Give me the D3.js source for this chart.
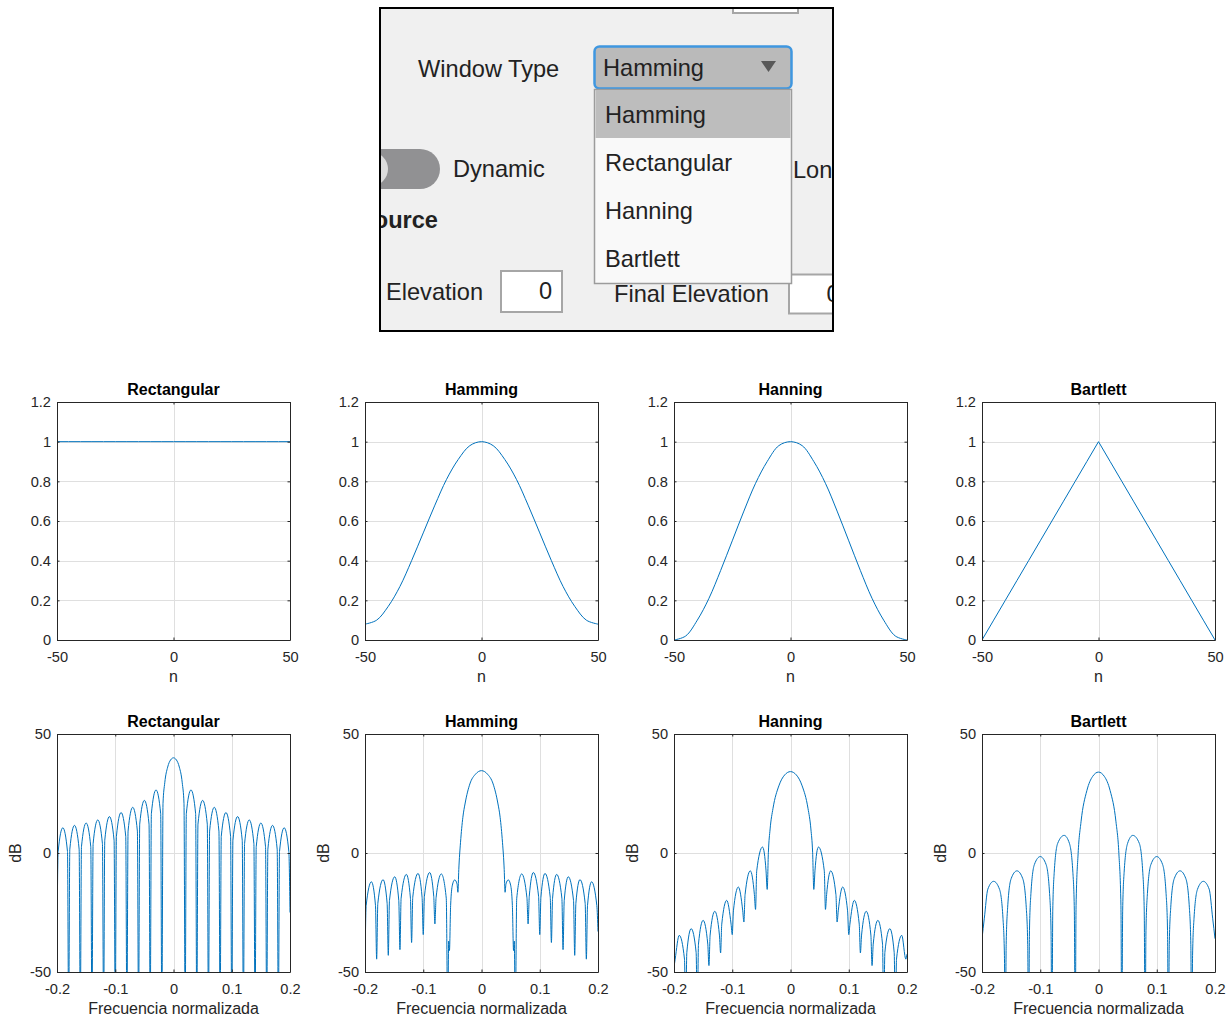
<!DOCTYPE html>
<html>
<head>
<meta charset="utf-8">
<title>Ventanas</title>
<script src="https://cdn.jsdelivr.net/npm/d3@7"></script>
<style>
  html, body { margin: 0; padding: 0; background: #fff; }
  svg { display: block; font-family: "Liberation Sans", Arial, Helvetica, sans-serif; }
  .axis text { font-size: 14.6px; fill: #262626; }
  .axis path, .axis line { stroke: #262626; }
</style>
</head>
<body>
<svg id="chart"></svg>
<script>
// window types, in the order of the plot columns
const windowNames = ["Rectangular", "Hamming", "Hanning", "Bartlett"];

// options of the Window Type drop-down (first one is the selected one)
const windowTypeOptions = ["Hamming", "Rectangular", "Hanning", "Bartlett"];
const selectedWindow = "Hamming";

// sample index n, read every 5 samples off the top row
const nSamples = [-50, -45, -40, -35, -30, -25, -20, -15, -10, -5, 0, 5, 10, 15, 20, 25, 30, 35, 40, 45, 50];
const rectangularWindow = [1, 1, 1, 1, 1, 1, 1, 1, 1, 1, 1, 1, 1, 1, 1, 1, 1, 1, 1, 1, 1];
const hammingWindow = [0.08, 0.10, 0.17, 0.27, 0.40, 0.54, 0.68, 0.81, 0.91, 0.98, 1.00, 0.98, 0.91, 0.81, 0.68, 0.54, 0.40, 0.27, 0.17, 0.10, 0.08];
const hanningWindow = [0.00, 0.02, 0.10, 0.21, 0.35, 0.50, 0.65, 0.79, 0.90, 0.98, 1.00, 0.98, 0.90, 0.79, 0.65, 0.50, 0.35, 0.21, 0.10, 0.02, 0.00];
const bartlettWindow = [0, 0.1, 0.2, 0.3, 0.4, 0.5, 0.6, 0.7, 0.8, 0.9, 1, 0.9, 0.8, 0.7, 0.6, 0.5, 0.4, 0.3, 0.2, 0.1, 0];

// tick values and labels
const nTicks = [-50, 0, 50];
const nTickLabels = ["-50", "0", "50"];
const ampTicks = [0, 0.2, 0.4, 0.6, 0.8, 1, 1.2];
const ampTickLabels = ["0", "0.2", "0.4", "0.6", "0.8", "1", "1.2"];
const freqTicks = [-0.2, -0.1, 0, 0.1, 0.2];
const freqTickLabels = ["-0.2", "-0.1", "0", "0.1", "0.2"];
const dbTicks = [-50, 0, 50];
const dbTickLabels = ["-50", "0", "50"];

// magnitude responses [normalised frequency, dB], read off the bottom row
// (dips that leave the axes are given as -70 / -80 and clipped)
const rectangularSpectrum = [
  [-0.2, -35], [-0.198, 0.6], [-0.19, 10.6], [-0.182, 0.6], [-0.18, -70],
  [-0.178, 1.6], [-0.17, 11.6], [-0.162, 1.6], [-0.16, -70],
  [-0.158, 2.6], [-0.15, 12.6], [-0.142, 2.6], [-0.14, -70],
  [-0.138, 3.9], [-0.13, 13.9], [-0.122, 3.9], [-0.12, -70],
  [-0.118, 5.3], [-0.11, 15.3], [-0.102, 5.3], [-0.1, -70],
  [-0.098, 7.0], [-0.09, 17.0], [-0.082, 7.0], [-0.08, -70],
  [-0.078, 9.2], [-0.07, 19.2], [-0.062, 9.2], [-0.06, -70],
  [-0.058, 12.1], [-0.05, 22.1], [-0.042, 12.1], [-0.04, -70],
  [-0.038, 16.5], [-0.03, 26.5], [-0.022, 16.5], [-0.02, -70],
  [-0.018, 20.8], [-0.015, 29.5], [-0.01, 36.1], [-0.005, 39.1], [0, 40.0],
  [0.005, 39.1], [0.01, 36.1], [0.015, 29.5], [0.018, 20.8], [0.02, -70],
  [0.022, 16.5], [0.03, 26.5], [0.038, 16.5], [0.04, -70],
  [0.042, 12.1], [0.05, 22.1], [0.058, 12.1], [0.06, -70],
  [0.062, 9.2], [0.07, 19.2], [0.078, 9.2], [0.08, -70],
  [0.082, 7.0], [0.09, 17.0], [0.098, 7.0], [0.1, -70],
  [0.102, 5.3], [0.11, 15.3], [0.118, 5.3], [0.12, -70],
  [0.122, 3.9], [0.13, 13.9], [0.138, 3.9], [0.14, -70],
  [0.142, 2.6], [0.15, 12.6], [0.158, 2.6], [0.16, -70],
  [0.162, 1.6], [0.17, 11.6], [0.178, 1.6], [0.18, -70],
  [0.182, 0.6], [0.19, 10.6], [0.198, 0.6], [0.2, -25]
];

const hammingSpectrum = [
  [-0.2, -47], [-0.198, -22.1], [-0.189, -12.1], [-0.182, -22.1], [-0.18, -44.6],
  [-0.178, -21.2], [-0.169, -11.2], [-0.162, -21.2], [-0.16, -43],
  [-0.158, -20], [-0.149, -10], [-0.142, -20], [-0.14, -40.6],
  [-0.138, -19], [-0.129, -9], [-0.122, -19], [-0.12, -37.6],
  [-0.118, -18.6], [-0.109, -8.6], [-0.102, -18.6], [-0.1, -34.3],
  [-0.098, -18.2], [-0.089, -8.2], [-0.082, -18.2], [-0.08, -29.8],
  [-0.078, -18.8], [-0.069, -8.8], [-0.0605, -19], [-0.058, -70],
  [-0.0563, -37], [-0.055, -41], [-0.053, -22], [-0.05, -13.5], [-0.046, -11.3], [-0.042, -13], [-0.0405, -16.5],
  [-0.039, -7], [-0.036, 4.5], [-0.032, 15], [-0.028, 21], [-0.02, 29], [-0.01, 33.2], [0, 34.6],
  [0.01, 33.2], [0.02, 29], [0.028, 21], [0.032, 15], [0.036, 4.5], [0.039, -7],
  [0.0405, -16.5], [0.042, -13], [0.046, -11.3], [0.05, -13.5], [0.053, -22], [0.055, -41], [0.0563, -37],
  [0.058, -70], [0.0605, -19], [0.069, -8.8], [0.078, -18.8],
  [0.08, -29.8], [0.082, -18.2], [0.089, -8.2], [0.098, -18.2],
  [0.1, -34.3], [0.102, -18.6], [0.109, -8.6], [0.118, -18.6],
  [0.12, -37.6], [0.122, -19], [0.129, -9], [0.138, -19],
  [0.14, -40.6], [0.142, -20], [0.149, -10], [0.158, -20],
  [0.16, -43], [0.162, -21.2], [0.169, -11.2], [0.178, -21.2],
  [0.18, -44.6], [0.182, -22.1], [0.189, -12.1], [0.198, -22.1], [0.2, -33]
];

const hanningSpectrum = [
  [-0.2, -48], [-0.198, -44.6], [-0.191, -34.6], [-0.182, -44.6], [-0.18, -70],
  [-0.178, -41.8], [-0.1705, -31.8], [-0.162, -41.8], [-0.16, -70],
  [-0.158, -38.3], [-0.15, -28.3], [-0.142, -38.3], [-0.14, -47.3],
  [-0.138, -34.5], [-0.13, -24.5], [-0.122, -34.5], [-0.12, -42],
  [-0.118, -29.9], [-0.1095, -19.9], [-0.102, -29.9], [-0.1, -34.3],
  [-0.098, -24.3], [-0.0895, -14.3], [-0.082, -24.3], [-0.08, -29],
  [-0.078, -17.5], [-0.069, -7.5], [-0.062, -17.5], [-0.06, -23.7],
  [-0.058, -7.5], [-0.048, 2.5], [-0.042, -7.5], [-0.04, -15.3],
  [-0.038, 0.1], [-0.035, 10.1], [-0.03, 18.8], [-0.02, 28.2], [-0.01, 32.8], [0, 34.2],
  [0.01, 32.8], [0.02, 28.2], [0.03, 18.8], [0.035, 10.1], [0.038, 0.1],
  [0.04, -15.3], [0.042, -7.5], [0.048, 2.5], [0.058, -7.5],
  [0.06, -23.7], [0.062, -17.5], [0.069, -7.5], [0.078, -17.5],
  [0.08, -29], [0.082, -24.3], [0.0895, -14.3], [0.098, -24.3],
  [0.1, -34.3], [0.102, -29.9], [0.1095, -19.9], [0.118, -29.9],
  [0.12, -42], [0.122, -34.5], [0.13, -24.5], [0.138, -34.5],
  [0.14, -47.3], [0.142, -38.3], [0.15, -28.3], [0.158, -38.3],
  [0.16, -70], [0.162, -41.8], [0.1705, -31.8], [0.178, -41.8],
  [0.18, -70], [0.182, -44.6], [0.191, -34.6], [0.198, -44.6], [0.2, -42.5]
];

const bartlettSpectrum = [
  [-0.2, -36], [-0.196, -27.4], [-0.19, -15.2], [-0.18, -11.9], [-0.17, -15.2], [-0.164, -27.4], [-0.1615, -43], [-0.16, -80],
  [-0.1585, -38.5], [-0.156, -23], [-0.15, -10.8], [-0.14, -7.5], [-0.13, -10.8], [-0.124, -23], [-0.1215, -38.5], [-0.12, -80],
  [-0.1185, -32.5], [-0.116, -17], [-0.11, -4.8], [-0.1, -1.5], [-0.09, -4.8], [-0.084, -17], [-0.0815, -32.5], [-0.08, -80],
  [-0.0785, -24], [-0.076, -8.1], [-0.07, 4.1], [-0.059, 7.4], [-0.05, 4.1], [-0.044, -8.1], [-0.0415, -24], [-0.04, -80],
  [-0.0385, -22], [-0.035, -0.3], [-0.03, 13.1], [-0.02, 26.2], [-0.01, 32.2], [0, 34.0],
  [0.01, 32.2], [0.02, 26.2], [0.03, 13.1], [0.035, -0.3], [0.0385, -22],
  [0.04, -80], [0.0415, -24], [0.044, -8.1], [0.05, 4.1], [0.059, 7.4], [0.07, 4.1], [0.076, -8.1], [0.0785, -24],
  [0.08, -80], [0.0815, -32.5], [0.084, -17], [0.09, -4.8], [0.1, -1.5], [0.11, -4.8], [0.116, -17], [0.1185, -32.5],
  [0.12, -80], [0.1215, -38.5], [0.124, -23], [0.13, -10.8], [0.14, -7.5], [0.15, -10.8], [0.156, -23], [0.1585, -38.5],
  [0.16, -80], [0.1615, -43], [0.164, -27.4], [0.17, -15.2], [0.18, -11.9], [0.19, -15.2], [0.196, -27.4], [0.2, -36]
];

const windowSeries = [rectangularWindow, hammingWindow, hanningWindow, bartlettWindow];
const spectrumSeries = [rectangularSpectrum, hammingSpectrum, hanningSpectrum, bartlettSpectrum];
const windowCurves = [d3.curveLinear, d3.curveCatmullRom.alpha(0.5), d3.curveCatmullRom.alpha(0.5), d3.curveLinear];

// layout
const width = 1232, height = 1019;
const plotLefts = [57, 365, 674, 982];
const rowTops = [402, 734];
const plotW = 233, plotH = 238;
const lineColor = "#0072bd";
const gridColor = "#dfdfdf";

const svg = d3.select("#chart")
    .attr("width", width)
    .attr("height", height);

svg.append("rect").attr("width", width).attr("height", height).attr("fill", "#fff");

/**
 * One MATLAB-looking axes box with grid, inward ticks on all sides and a clipped line
 */
function drawAxes(left, top, cfg, id) {
    const x = d3.scaleLinear().domain(cfg.xDomain).range([left, left + plotW]);
    const y = d3.scaleLinear().domain(cfg.yDomain).range([top + plotH, top]);
    const g = svg.append("g");

    // grid
    g.append("g").selectAll("line")
        .data(cfg.xTicks)
        .join("line")
        .attr("x1", d => Math.round(x(d)) + 0.5)
        .attr("x2", d => Math.round(x(d)) + 0.5)
        .attr("y1", top)
        .attr("y2", top + plotH)
        .attr("stroke", gridColor);
    g.append("g").selectAll("line")
        .data(cfg.yTicks)
        .join("line")
        .attr("x1", left)
        .attr("x2", left + plotW)
        .attr("y1", d => Math.round(y(d)) + 0.5)
        .attr("y2", d => Math.round(y(d)) + 0.5)
        .attr("stroke", gridColor);

    // data line, clipped to the axes
    g.append("clipPath").attr("id", id)
        .append("rect")
        .attr("x", left).attr("y", top)
        .attr("width", plotW + 1).attr("height", plotH + 1);

    const line = d3.line()
        .x(d => x(d[0]))
        .y(d => y(d[1]))
        .curve(cfg.curve);

    g.append("path")
        .datum(cfg.points)
        .attr("clip-path", `url(#${id})`)
        .attr("fill", "none")
        .attr("stroke", lineColor)
        .attr("stroke-width", 1)
        .attr("d", line);

    // axes: bottom/left with labels, top/right ticks only
    const tick = -2.5;
    g.append("g").attr("class", "axis")
        .attr("transform", `translate(0,${top + plotH})`)
        .call(d3.axisBottom(x).tickValues(cfg.xTicks).tickFormat((d, i) => cfg.xLabels[i])
            .tickSizeInner(tick).tickSizeOuter(0).tickPadding(11.7));
    g.append("g").attr("class", "axis")
        .attr("transform", `translate(${left},0)`)
        .call(d3.axisLeft(y).tickValues(cfg.yTicks).tickFormat((d, i) => cfg.yLabels[i])
            .tickSizeInner(tick).tickSizeOuter(0).tickPadding(6));
    g.append("g").attr("class", "axis")
        .attr("transform", `translate(0,${top})`)
        .call(d3.axisTop(x).tickValues(cfg.xTicks).tickFormat("").tickSizeInner(tick).tickSizeOuter(0));
    g.append("g").attr("class", "axis")
        .attr("transform", `translate(${left + plotW},0)`)
        .call(d3.axisRight(y).tickValues(cfg.yTicks).tickFormat("").tickSizeInner(tick).tickSizeOuter(0));

    // title
    g.append("text")
        .attr("x", left + plotW / 2)
        .attr("y", top - 7)
        .attr("text-anchor", "middle")
        .attr("font-size", 16)
        .attr("font-weight", "bold")
        .attr("fill", "#000")
        .text(cfg.title);

    // x label
    g.append("text")
        .attr("x", left + plotW / 2)
        .attr("y", top + plotH + 42)
        .attr("text-anchor", "middle")
        .attr("font-size", 16)
        .attr("fill", "#262626")
        .text(cfg.xLabel);

    // y label
    if (cfg.yLabel) {
        g.append("text")
            .attr("transform", `translate(${left - 36},${top + plotH / 2}) rotate(-90)`)
            .attr("text-anchor", "middle")
            .attr("font-size", 16)
            .attr("fill", "#262626")
            .text(cfg.yLabel);
    }
}

// top row: window shapes, bottom row: spectra
windowNames.forEach((name, i) => {
    drawAxes(plotLefts[i], rowTops[0], {
        title: name,
        xDomain: [-50, 50], yDomain: [0, 1.2],
        xTicks: nTicks, xLabels: nTickLabels,
        yTicks: ampTicks, yLabels: ampTickLabels,
        xLabel: "n", yLabel: null,
        points: nSamples.map((n, k) => [n, windowSeries[i][k]]),
        curve: windowCurves[i]
    }, "clip-w" + i);

    drawAxes(plotLefts[i], rowTops[1], {
        title: name,
        xDomain: [-0.2, 0.2], yDomain: [-50, 50],
        xTicks: freqTicks, xLabels: freqTickLabels,
        yTicks: dbTicks, yLabels: dbTickLabels,
        xLabel: "Frecuencia normalizada", yLabel: "dB",
        points: spectrumSeries[i],
        curve: d3.curveMonotoneX
    }, "clip-s" + i);
});

/**
 * The cropped app screenshot with the Window Type drop-down open
 */
function drawControls() {
    const ui = svg.append("g").attr("font-size", 23.6).attr("fill", "#222");

    ui.append("clipPath").attr("id", "panel-clip")
        .append("rect").attr("x", 381).attr("y", 9).attr("width", 451).attr("height", 321);

    const p = ui.append("g").attr("clip-path", "url(#panel-clip)");
    p.append("rect").attr("x", 381).attr("y", 9).attr("width", 451).attr("height", 321).attr("fill", "#f0f0f0");

    // edit field cut by the top edge
    p.append("rect").attr("x", 733).attr("y", -20).attr("width", 65).attr("height", 33)
        .attr("fill", "#fff").attr("stroke", "#a6a6a6").attr("stroke-width", 2);

    p.append("text").attr("x", 418).attr("y", 77).text("Window Type");

    // switch
    p.append("rect").attr("x", 340).attr("y", 149).attr("width", 100).attr("height", 40).attr("rx", 20)
        .attr("fill", "#919193");
    p.append("circle").attr("cx", 371).attr("cy", 169).attr("r", 17).attr("fill", "#dcdcdc");
    p.append("text").attr("x", 453).attr("y", 177).text("Dynamic");
    p.append("text").attr("x", 358).attr("y", 228).attr("font-weight", "bold").text("Source");
    p.append("text").attr("x", 793).attr("y", 178).text("Lon");

    // elevation fields
    p.append("text").attr("x", 386).attr("y", 300).text("Elevation");
    p.append("rect").attr("x", 501).attr("y", 271).attr("width", 61).attr("height", 41)
        .attr("fill", "#fff").attr("stroke", "#a6a6a6").attr("stroke-width", 2);
    p.append("text").attr("x", 552).attr("y", 299).attr("text-anchor", "end").text("0");
    p.append("text").attr("x", 614).attr("y", 302).text("Final Elevation");
    p.append("rect").attr("x", 789).attr("y", 274.5).attr("width", 80).attr("height", 39)
        .attr("fill", "#fff").attr("stroke", "#a6a6a6").attr("stroke-width", 2);
    p.append("text").attr("x", 826.5).attr("y", 302).text("0");

    // closed drop-down
    p.append("rect").attr("x", 594.5).attr("y", 46.5).attr("width", 197).attr("height", 42).attr("rx", 5)
        .attr("fill", "#bababa").attr("stroke", "#3f97e0").attr("stroke-width", 2.5);
    p.append("text").attr("x", 603).attr("y", 76).text(selectedWindow);
    p.append("path").attr("d", "M761,61 L776,61 L768.5,72 Z").attr("fill", "#595959");

    // open list
    const itemH = 48;
    p.append("rect").attr("x", 594.5).attr("y", 89.5).attr("width", 197).attr("height", 194)
        .attr("fill", "#f9f9f9").attr("stroke", "#9c9c9c").attr("stroke-width", 1.5);
    p.selectAll(".opt-bg")
        .data(windowTypeOptions)
        .join("rect")
        .attr("class", "opt-bg")
        .attr("x", 595.5).attr("y", (d, i) => 90 + i * itemH)
        .attr("width", 195).attr("height", itemH)
        .attr("fill", d => d === selectedWindow ? "#bdbdbd" : "none");
    p.selectAll(".opt")
        .data(windowTypeOptions)
        .join("text")
        .attr("class", "opt")
        .attr("x", 605).attr("y", (d, i) => 122.7 + i * itemH)
        .text(d => d);

    // black frame of the screenshot
    ui.append("rect").attr("x", 380).attr("y", 8).attr("width", 453).attr("height", 323)
        .attr("fill", "none").attr("stroke", "#000").attr("stroke-width", 2);
}

drawControls();
</script>
</body>
</html>
